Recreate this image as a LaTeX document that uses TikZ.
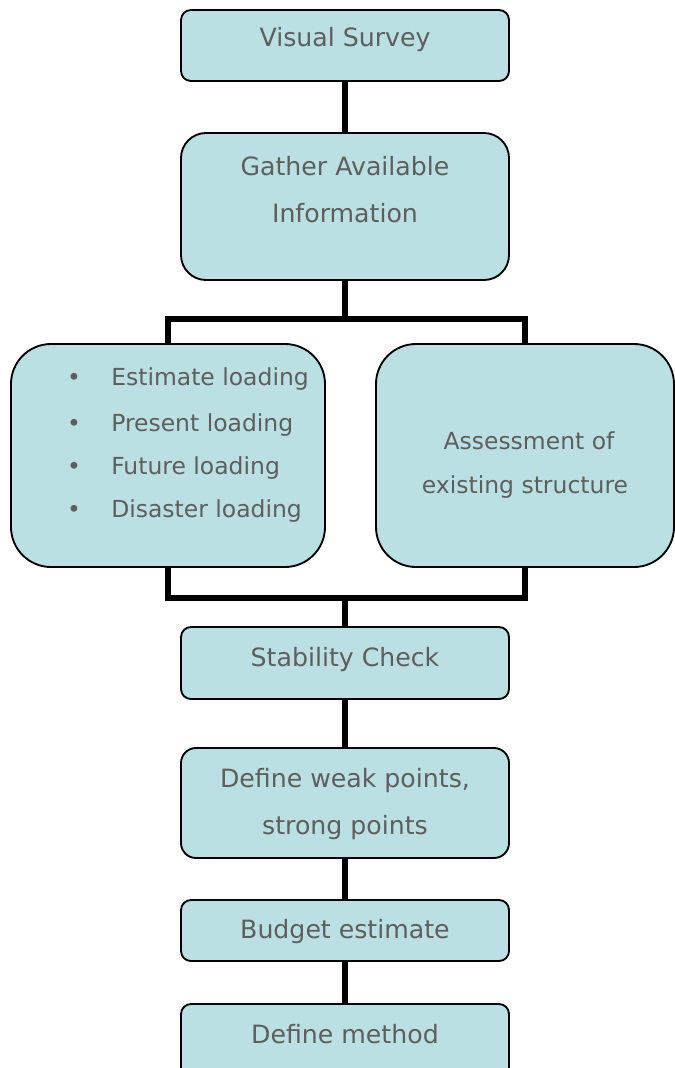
\documentclass[tikz,border=0pt]{standalone}
\usepackage{fontspec}
\setmainfont{DejaVu Sans}
\definecolor{boxfill}{HTML}{BAE0E3}
\definecolor{txtgray}{HTML}{5E5E5E}
\begin{document}
\begin{tikzpicture}[x=0.75pt,y=-0.75pt,
  box/.style={draw=black, line width=1.4pt, fill=boxfill, inner sep=0pt},
  big/.style={font=\fontsize{18.9pt}{22pt}\selectfont, text=txtgray, anchor=base, inner sep=0pt},
  small/.style={font=\fontsize{17.6pt}{21pt}\selectfont, text=txtgray, anchor=base, inner sep=0pt},
  conn/.style={draw=black, line width=4pt, line join=miter}]
\useasboundingbox (0,0) rectangle (675,1068);
\clip (0,0) rectangle (675,1068);
% boxes
\node[box, minimum width=246pt, minimum height=53.25pt, rounded corners=7.5pt] (vs) at (345,45.5) {};
\node[box, minimum width=246pt, minimum height=110.25pt, rounded corners=18.75pt] (gai) at (345,206.5) {};
\node[box, minimum width=235.5pt, minimum height=167.25pt, rounded corners=30pt] (left) at (168,455.5) {};
\node[box, minimum width=223.5pt, minimum height=167.25pt, rounded corners=30pt] (right) at (525,455.5) {};
\node[box, minimum width=246pt, minimum height=54pt, rounded corners=7.5pt] (sc) at (345,663) {};
\node[box, minimum width=246pt, minimum height=82.5pt, rounded corners=11.25pt] (dw) at (345,803) {};
\node[box, minimum width=246pt, minimum height=45.75pt, rounded corners=7.5pt] (be) at (345,930.5) {};
\node[box, minimum width=246pt, minimum height=55.5pt, rounded corners=7.5pt] (dm) at (345,1041) {};
% connectors
\coordinate (j1) at (345,319);
\coordinate (j2) at (345,598);
\draw[conn] (vs.south) -- (gai.north);
\draw[conn] (gai.south) -- (j1);
\draw[conn] (left.north) |- (j1) -| (right.north);
\draw[conn] (left.south) |- (j2) -| (right.south);
\draw[conn] (j2) -- (sc.north);
\draw[conn] (sc.south) -- (dw.north);
\draw[conn] (dw.south) -- (be.north);
\draw[conn] (be.south) -- (dm.north);
% texts
\node[big] (t1) at (345,46) {Visual Survey};
\node[big] (t2a) at (345,175) {Gather Available};
\node[big] (t2b) at (345,222) {Information};
\node[small] (b1) at (74,385) {•};
\node[small] (b2) at (74,431) {•};
\node[small] (b3) at (74,474) {•};
\node[small] (b4) at (74,517) {•};
\node[small, anchor=base west] (l1) at (111,385) {Estimate loading};
\node[small, anchor=base west] (l2) at (111,431) {Present loading};
\node[small, anchor=base west] (l3) at (111,474) {Future loading};
\node[small, anchor=base west] (l4) at (111,517) {Disaster loading};
\node[small] (r1) at (529,449) {Assessment of};
\node[small] (r2) at (525,493) {existing structure};
\node[big] (t3) at (345,666) {Stability Check};
\node[big] (t4a) at (345,787) {Define weak points,};
\node[big] (t4b) at (345,834) {strong points};
\node[big] (t5) at (345,938) {Budget estimate};
\node[big] (t6) at (345,1043) {Define method};
\end{tikzpicture}
\end{document}
